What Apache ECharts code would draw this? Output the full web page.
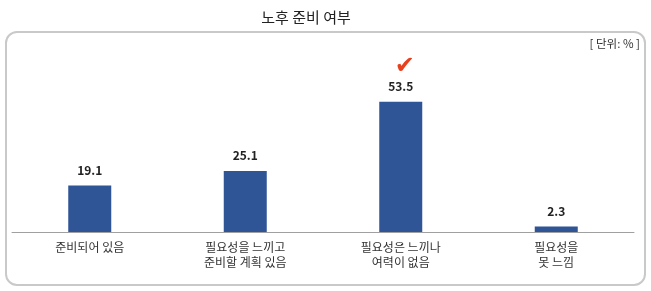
<!DOCTYPE html>
<html><head><meta charset="utf-8">
<script src="https://cdn.jsdelivr.net/npm/echarts@6/dist/echarts.min.js"></script>
<style>html,body{margin:0;padding:0;background:#fff}#c{width:651px;height:291px}</style>
</head><body><div id="c"></div>
<script>
const categories = ['준비되어 있음', '필요성을 느끼고\n준비할 계획 있음', '필요성은 느끼나\n여력이 없음', '필요성을\n못 느낌'];
const values = [19.1, 25.1, 53.5, 2.3];
const highlighted = [false, false, true, false];
const titleText = '노후 준비 여부';
const unitText = '[ 단위: % ]';

const chart = echarts.init(document.getElementById('c'));
const font = '"Noto Sans CJK KR", "Noto Sans", sans-serif';
chart.setOption({
  animation: false,
  textStyle: { fontFamily: font },
  title: { text: titleText, left: 301, top: 5, textAlign: 'center',
    textStyle: { fontSize: 15, fontWeight: 'normal', color: '#222', fontFamily: font } },
  graphic: [
    { type: 'rect', shape: { x: 6, y: 32, width: 639, height: 253, r: 11 },
      style: { fill: 'none', stroke: '#c9c9c9', lineWidth: 2 }, z: -1 },
    { type: 'text', right: 11, top: 38,
      style: { text: unitText, fontSize: 11.5, fill: '#333', fontFamily: font } }
  ],
  grid: { left: 12, right: 17, top: 86, bottom: 59 },
  xAxis: { type: 'category', data: categories,
    axisLine: { lineStyle: { color: '#a0a0a0', width: 1 } },
    axisTick: { show: false },
    axisLabel: { fontSize: 12, color: '#333', lineHeight: 15, margin: 8, interval: 0, fontFamily: font } },
  yAxis: { type: 'value', min: 0, max: 60, show: false, splitLine: { show: false } },
  series: [{
    type: 'bar', barWidth: 43,
    data: values.map((v, i) => ({ value: v, hl: highlighted[i] })),
    itemStyle: { color: '#2F5597' },
    label: { show: true, position: 'top', distance: 7,
      formatter: p => highlighted[p.dataIndex] ? '{chk|✔}\n{v|' + p.value + '}' : '{v|' + p.value + '}',
      rich: {
        v: { fontSize: 12, fontWeight: 'bold', color: '#222', fontFamily: font, lineHeight: 16 },
        chk: { fontSize: 24, color: '#E8401C', lineHeight: 24, padding: [0, 0, 0, 8], fontFamily: '"DejaVu Sans", sans-serif' }
      } }
  }]
});
</script></body></html>
